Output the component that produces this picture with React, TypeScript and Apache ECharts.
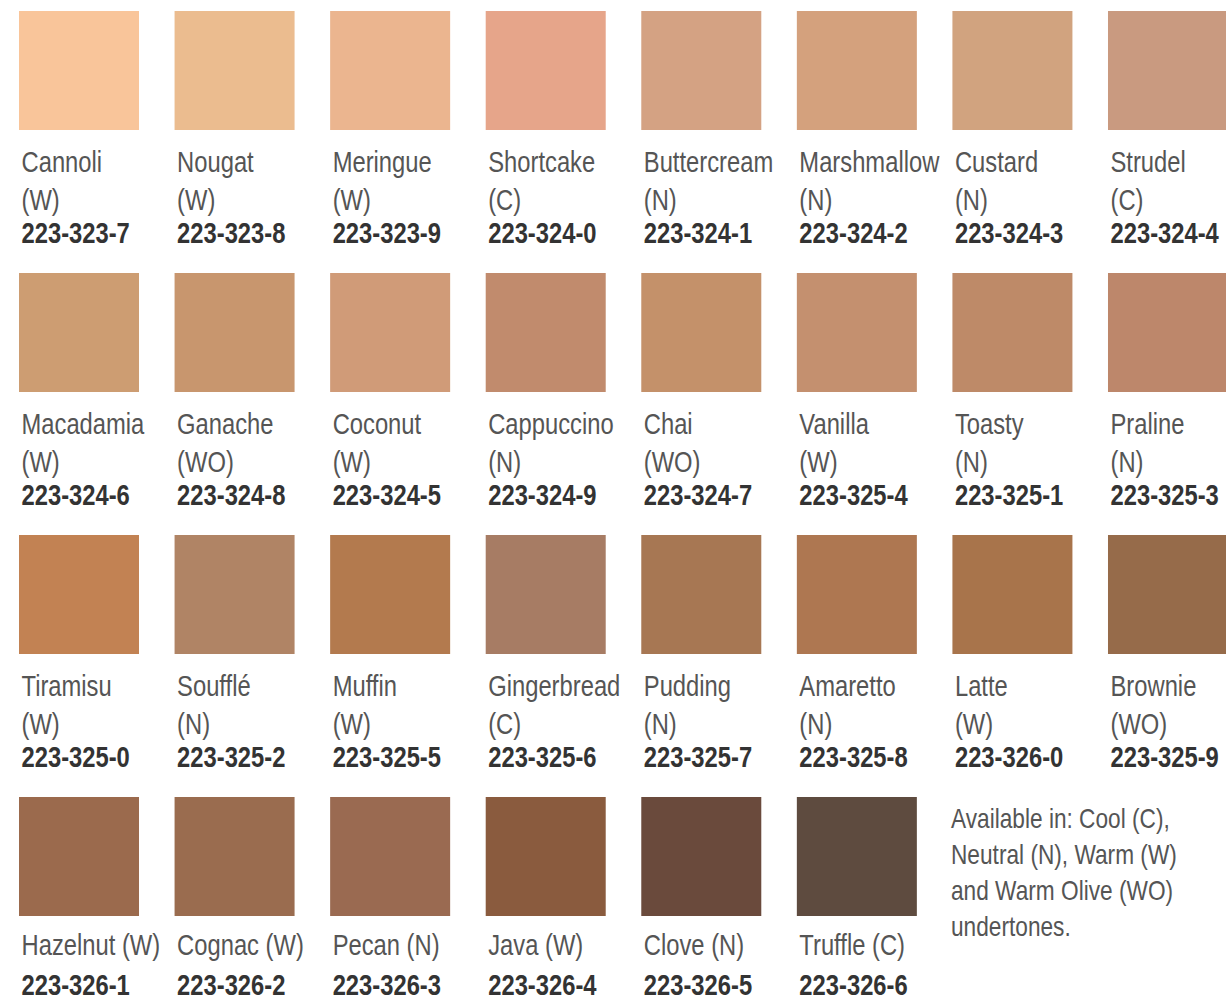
import React, { useEffect, useRef } from "react";
import * as echarts from "echarts";

const names = [
  "Cannoli", "Nougat", "Meringue", "Shortcake", "Buttercream", "Marshmallow", "Custard", "Strudel",
  "Macadamia", "Ganache", "Coconut", "Cappuccino", "Chai", "Vanilla", "Toasty", "Praline",
  "Tiramisu", "Soufflé", "Muffin", "Gingerbread", "Pudding", "Amaretto", "Latte", "Brownie",
  "Hazelnut", "Cognac", "Pecan", "Java", "Clove", "Truffle",
];
const undertones = [
  "W", "W", "W", "C", "N", "N", "N", "C",
  "W", "WO", "W", "N", "WO", "W", "N", "N",
  "W", "N", "W", "C", "N", "N", "W", "WO",
  "W", "W", "N", "W", "N", "C",
];
const codes = [
  "223-323-7", "223-323-8", "223-323-9", "223-324-0", "223-324-1", "223-324-2", "223-324-3", "223-324-4",
  "223-324-6", "223-324-8", "223-324-5", "223-324-9", "223-324-7", "223-325-4", "223-325-1", "223-325-3",
  "223-325-0", "223-325-2", "223-325-5", "223-325-6", "223-325-7", "223-325-8", "223-326-0", "223-325-9",
  "223-326-1", "223-326-2", "223-326-3", "223-326-4", "223-326-5", "223-326-6",
];
const colors = [
  "#F9C59A", "#EBBC8F", "#EBB58F", "#E6A58A", "#D4A283", "#D4A17D", "#D1A37F", "#C99A80",
  "#CD9D72", "#C8966E", "#D09B78", "#C18B6D", "#C4916A", "#C4906F", "#BE8A68", "#BD876B",
  "#C28253", "#B08465", "#B37A4E", "#A77C64", "#A77753", "#AE7751", "#A8744B", "#966B4A",
  "#9B6A4D", "#9A6C4F", "#9A6A51", "#8A5B3E", "#6A4A3C", "#5E4B3F",
];
const noteLines = [
  "Available in: Cool (C),",
  "Neutral (N), Warm (W)",
  "and Warm Olive (WO)",
  "undertones.",
];

const COLS = 8;
const FONT = '"Liberation Sans", Arial, sans-serif';
const SQUEEZE = 0.82;
const PITCH_X = 155.57;
const PITCH_Y = 262;
const GRID_LEFT = 19;
const GRID_TOP = 11;
const W = 1226;
const H = 1006;

export default function App() {
  const ref = useRef<HTMLDivElement>(null);
  useEffect(() => {
    if (!ref.current) return;
    const chart = echarts.init(ref.current, undefined, { renderer: "svg" });
    const data = names.map((_, i) => [i % COLS, Math.floor(i / COLS), i]);
    const lastRow = Math.floor((names.length - 1) / COLS);
    const gw = W - GRID_LEFT;
    const gh = H - GRID_TOP;
    const mkText = (x: number, y: number, text: string, fill: string, bold: boolean) => ({
      type: "text",
      x,
      y,
      scaleX: SQUEEZE,
      style: {
        x: 0,
        y: 0,
        text,
        fill,
        fontFamily: FONT,
        fontSize: 29,
        fontWeight: bold ? "bold" : "normal",
        align: "left",
        verticalAlign: "middle",
      },
    });
    chart.setOption({
      animation: false,
      backgroundColor: "#ffffff",
      grid: { left: GRID_LEFT, top: GRID_TOP, width: gw, height: gh },
      xAxis: { type: "value", min: 0, max: gw / PITCH_X, show: false },
      yAxis: { type: "value", min: 0, max: gh / PITCH_Y, inverse: true, show: false },
      graphic: [
        {
          type: "text",
          x: 951,
          y: 800,
          scaleX: 0.84,
          silent: true,
          style: {
            x: 0,
            y: 0,
            text: noteLines.join("\n"),
            fill: "#555555",
            fontFamily: FONT,
            fontSize: 27,
            lineHeight: 36,
            verticalAlign: "top",
          },
        },
      ],
      series: [
        {
          type: "custom",
          silent: true,
          data,
          renderItem: (params: any, api: any) => {
            const col = api.value(0);
            const row = api.value(1);
            const idx = api.value(2);
            const p = api.coord([col, row]);
            const sz = api.size([1, 1]);
            const w = sz[0] * 0.7714;
            const h = sz[1] * 0.454;
            const tx = p[0] + 2.5;
            const children: any[] = [
              {
                type: "rect",
                shape: { x: p[0], y: p[1], width: w, height: h },
                style: { fill: colors[idx] },
              },
            ];
            if (row === lastRow) {
              children.push(mkText(tx, p[1] + 148, `${names[idx]} (${undertones[idx]})`, "#555555", false));
              children.push(mkText(tx, p[1] + 188, codes[idx], "#333333", true));
            } else {
              children.push(mkText(tx, p[1] + 151, names[idx], "#555555", false));
              children.push(mkText(tx, p[1] + 189, `(${undertones[idx]})`, "#555555", false));
              children.push(mkText(tx, p[1] + 222, codes[idx], "#333333", true));
            }
            return { type: "group", children };
          },
        },
      ],
    });
    return () => chart.dispose();
  }, []);
  return (
    <div
      ref={ref}
      style={{ position: "fixed", left: 0, top: 0, width: W, height: H, background: "#fff" }}
    />
  );
}
